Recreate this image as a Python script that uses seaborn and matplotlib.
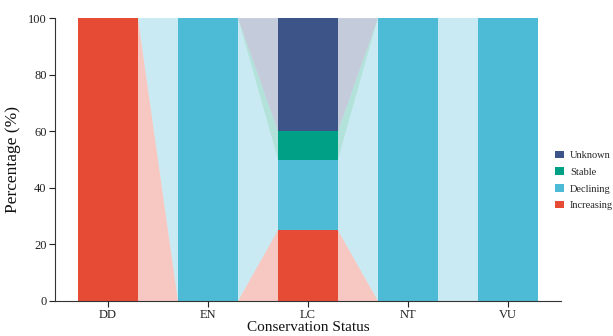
import numpy as np
import pandas as pd
import matplotlib
matplotlib.use("Agg")
import matplotlib.pyplot as plt
from matplotlib.patches import Patch
import seaborn as sns

# data
categories = ["DD", "EN", "LC", "NT", "VU"]
increasing = [100, 0, 25, 0, 0]
declining = [0, 100, 25, 100, 100]
stable = [0, 0, 10, 0, 0]
unknown = [0, 0, 40, 0, 0]

trends = ["Increasing", "Declining", "Stable", "Unknown"]
colors = {"Increasing": "#E64B35", "Declining": "#4DBBD5",
          "Stable": "#00A087", "Unknown": "#3C5488"}

df = pd.DataFrame({"Increasing": increasing, "Declining": declining,
                   "Stable": stable, "Unknown": unknown}, index=categories)

sns.set_theme(style="ticks")
plt.rcParams["font.family"] = ["Liberation Serif", "DejaVu Serif"]

fig = plt.figure(figsize=(6.13, 3.36), dpi=100)
ax = fig.add_axes([0.0897, 0.1042, 0.8254, 0.842])

bar_w = 0.6
bottoms = np.zeros(len(categories))
for t in trends:
    vals = df[t].values.astype(float)
    sns.barplot(x=categories, y=vals, bottom=bottoms, color=colors[t],
                width=bar_w, saturation=1, linewidth=0, edgecolor="none", ax=ax)
    bottoms = bottoms + vals

# connecting bands between neighbouring bars
cum_low = df[trends].cumsum(axis=1) - df[trends]
cum_high = df[trends].cumsum(axis=1)
for i in range(len(categories) - 1):
    x0 = i + bar_w / 2
    x1 = i + 1 - bar_w / 2
    for t in trends:
        lo0, hi0 = cum_low[t].iloc[i], cum_high[t].iloc[i]
        lo1, hi1 = cum_low[t].iloc[i + 1], cum_high[t].iloc[i + 1]
        if hi0 - lo0 == 0 and hi1 - lo1 == 0:
            continue
        ax.fill([x0, x1, x1, x0], [lo0, lo1, hi1, hi0],
                color=colors[t], alpha=0.3, linewidth=0)

ax.set_xlim(-0.53, 4.53)
ax.set_ylim(0, 100)
ax.set_yticks([0, 20, 40, 60, 80, 100])
ax.tick_params(labelsize=9, length=4, width=0.8, colors="#222222", pad=2)
ax.set_xlabel("Conservation Status", fontsize=11, labelpad=-0.5, color="#111111")
ax.set_ylabel("Percentage (%)", fontsize=12.5, labelpad=5, color="#111111")
sns.despine(ax=ax)
for s in ["left", "bottom"]:
    ax.spines[s].set_linewidth(0.8)
    ax.spines[s].set_color("#333333")

handles = [Patch(facecolor=colors[t], edgecolor="none", label=t)
           for t in ["Unknown", "Stable", "Declining", "Increasing"]]
fig.legend(handles=handles, loc="center left", bbox_to_anchor=(0.899, 0.463),
           frameon=False, fontsize=7.5, handlelength=0.8, handleheight=0.75,
           handletextpad=0.6, labelspacing=0.7, borderaxespad=0)

fig.savefig("out.png", dpi=100)
